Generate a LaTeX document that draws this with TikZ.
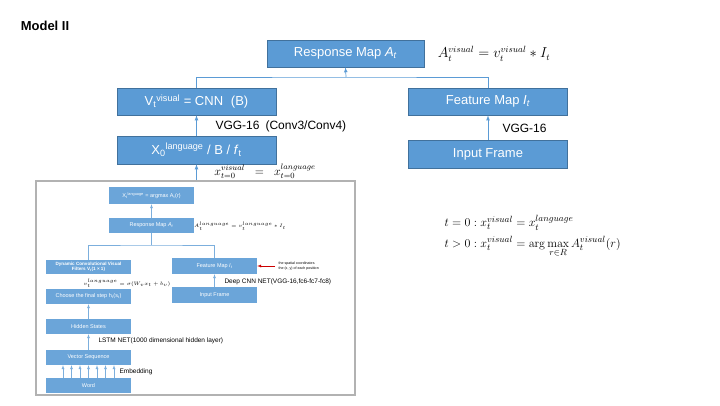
\documentclass[tikz,border=0pt]{standalone}
\usepackage{amsmath}
\usepackage[no-math]{fontspec}
\setmainfont{Liberation Sans}
\usetikzlibrary{arrows}
\usetikzlibrary{shadows}
\definecolor{boxblue}{HTML}{5B9BD5}
\definecolor{boxedge}{HTML}{41719C}
\tikzset{
	block/.style={draw=boxedge, fill=boxblue, line width=0.7pt, text=white, inner sep=0pt, minimum width=159pt, minimum height=27pt, font=\fontsize{13}{15}\selectfont},
	miniblock/.style={fill=boxblue!90, text=white, inner sep=0pt, minimum width=85pt, minimum height=15pt, align=center, font=\fontsize{5.5}{6.2}\selectfont},
	link/.style={draw=boxblue, line width=0.7pt},
	minilink/.style={draw=boxblue!80, line width=0.4pt},
	inset/.style={draw=gray!60, line width=1.2pt, fill=white, inner sep=0pt, drop shadow={opacity=0.35, shadow xshift=1pt, shadow yshift=-1pt}}
}

\begin{document}
\begin{tikzpicture}[x=1pt, y=-1pt, >=latex]

	\useasboundingbox (0,0) rectangle (720,405);

	\node[font=\bfseries\fontsize{13}{15}\selectfont] (title) at (45,26) {Model II};

	\node[block, minimum width=157pt] (resp)	at (345.5,53.5)	{Response Map \textit{A}\textsubscript{\textit{t}}};
	\node[block] (vt)	at (196.5,101.5)	{V\textsubscript{t}\textsuperscript{visual} = CNN\hspace{0.6em}(B)};
	\node[block] (feat)	at (488,101.5)	{Feature Map \textit{I}\textsubscript{\textit{t}}};
	\node[block, minimum height=28pt] (xzero)	at (196.5,150)	{X\textsubscript{0}\textsuperscript{language} / B / \textit{f}\textsubscript{t}};
	\node[block, minimum height=28pt] (frame)	at (488,154)	{Input Frame};

	\node[font=\fontsize{13.5}{15}\selectfont] (respeq) at (494,54) {$A_t^{visual} = v_t^{visual} * I_t$};
	\node[anchor=west, font=\fontsize{12}{14}\selectfont] (vgglbl) at (212,126) {VGG-16\hspace{0.5em}(Conv3/Conv4)};
	\node[anchor=west, font=\fontsize{12}{14}\selectfont] (vgg) at (499,128) {VGG-16};
	\node[font=\fontsize{12}{14}\selectfont] (initeq) at (265,171) {$x_{t=0}^{visual} \;\;=\;\; x_{t=0}^{language}$};
	\node[anchor=west, font=\fontsize{12.8}{14}\selectfont] (rule) at (441,236) {$\displaystyle\begin{aligned} &t=0: x_t^{visual} = x_t^{language}\\[1pt] &t>0: x_t^{visual} = \arg\max_{r\in R} A_t^{visual}(r)\end{aligned}$};

	% model I, inset
	\node[inset, minimum width=319pt, minimum height=214pt] (inset) at (195.5,288) {};

	\node[miniblock, minimum height=17pt] (xlang)	at (151.5,195.5)	{X\textsubscript{t}\textsuperscript{language} = argmax A\textsubscript{t}(r)};
	\node[miniblock] (iresp)	at (151.5,225.5)	{Response Map \textit{A}\textsubscript{\textit{t}}};
	\node[miniblock, minimum height=14pt, font=\bfseries\fontsize{4.6}{5.4}\selectfont] (dyn)	at (88.5,267)	{Dynamic Convolutional Visual\\Filters V\textsubscript{t}(1 × 1)};
	\node[miniblock, minimum height=16pt] (ifeat)	at (214.5,266)	{Feature Map \textit{I}\textsubscript{\textit{t}}};
	\node[miniblock, minimum height=16pt] (iframe)	at (214.5,295)	{Input Frame};
	\node[miniblock] (choose)	at (88.5,296.5)	{Choose the final step h\textsubscript{t}(s\textsubscript{t})};
	\node[miniblock] (hidden)	at (88.5,326.5)	{Hidden States};
	\node[miniblock] (vecseq)	at (88.5,357.5)	{Vector Sequence};
	\node[miniblock] (word)	at (88.5,385.5)	{Word};

	\node[font=\fontsize{4.6}{6}\selectfont] (irespeq) at (240,226) {$A_t^{language} = v_t^{language} * I_t$};
	\node[font=\fontsize{4}{5}\selectfont] (filtereq) at (127,283) {$v_t^{language} = \sigma(W_v x_t + b_v)$};
	\node[anchor=west, font=\fontsize{6.5}{7.5}\selectfont] (cnnlbl) at (221,282) {Deep CNN NET(VGG-16,fc6-fc7-fc8)};
	\node[anchor=west, font=\fontsize{6.5}{7.5}\selectfont] (lstmlbl) at (95,341) {LSTM NET(1000 dimensional hidden layer)};
	\node[anchor=west, font=\fontsize{6.5}{7.5}\selectfont] (emblbl) at (116,372) {Embedding};
	\node[anchor=west, align=left, font=\fontsize{3.6}{5.5}\selectfont] (coordlbl) at (275,266) {the spatial coordinates\\the (x, y) of each position};

	% connectors
	\coordinate (bus) at (346,77);
	\draw[link] (vt.north) |- (bus) -| (feat.north);
	\draw[link, ->] (bus) -- (resp.south);
	\draw[link, ->] (xzero.north) -- (vt.south);
	\draw[link, ->] (frame.north) -- (feat.south);
	\draw[link, ->] (inset.north -| xzero) -- (xzero.south);

	\coordinate (ibus) at (151.5,245);
	\draw[minilink] (dyn.north) |- (ibus) -| (ifeat.north);
	\draw[minilink] (ibus) -- (iresp.south);
	\draw[minilink, ->] (iresp.north) -- (xlang.south);
	\draw[minilink, ->] (iframe.north) -- (ifeat.south);
	\draw[minilink, ->] (hidden.north) -- (choose.south);
	\draw[minilink, ->] (vecseq.north) -- (hidden.south);
	\foreach \dx in {-25.5,-17,-8.5,0,8.5,17,25.5}
		\draw[minilink, ->] ([xshift=\dx pt]word.north) -- ([xshift=\dx pt]vecseq.south);
	\draw[red!80!black, line width=0.4pt, ->] (coordlbl.west) -- (ifeat.east);

\end{tikzpicture}
\end{document}
